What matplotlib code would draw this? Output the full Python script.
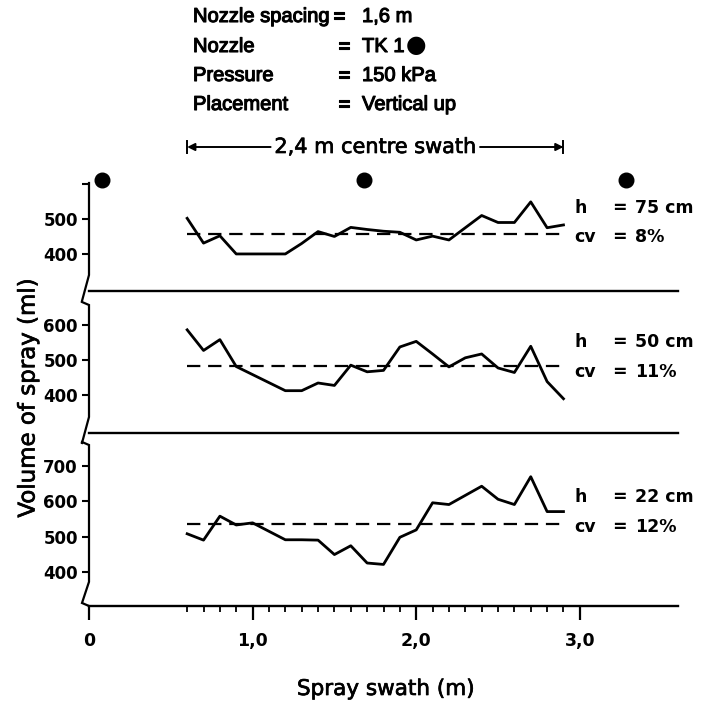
import matplotlib
matplotlib.use('Agg')
import matplotlib.pyplot as plt
import matplotlib.transforms as mtransforms
import matplotlib.patheffects as pe

plt.rcParams['font.family'] = ['DejaVu Sans']

# spray swath positions (m) and measured volumes (ml)
swath_x = [0.6, 0.7, 0.8, 0.9, 1.0, 1.1, 1.2, 1.3, 1.4, 1.5, 1.6, 1.7,
           1.8, 1.9, 2.0, 2.1, 2.2, 2.3, 2.4, 2.5, 2.6, 2.7, 2.8, 2.9]
vol_75cm = [502, 431, 452, 400, 400, 400, 400, 430, 464, 450, 476, 470,
            465, 462, 440, 451, 440, 475, 510, 490, 490, 549, 475, 483]
vol_50cm = [586, 527, 558, 481, 458, 435, 412, 412, 434, 427, 485, 466,
            470, 537, 553, 517, 480, 506, 517, 477, 464, 539, 438, 389]
vol_22cm = [508, 490, 558, 533, 539, 515, 491, 491, 490, 449, 474, 425,
            421, 498, 519, 596, 591, 617, 643, 606, 591, 670, 571, 571]
mean_levels = [458, 483, 535]
heights = ['75 cm', '50 cm', '22 cm']
cvs = ['8%', '11%', '12%']
nozzle_x = [0.08, 1.68, 3.28]

W, H = 705, 703
fig = plt.figure(figsize=(W / 100, H / 100), dpi=100)
fig.patch.set_facecolor('white')

HEAD_FONT = ['Liberation Sans', 'DejaVu Sans']
THICK = [pe.withStroke(linewidth=0.8, foreground='black')]
SEMI = [pe.withStroke(linewidth=0.5, foreground='black')]


def ftext(x, y, s, **kw):
    kw.setdefault('fontsize', 12.5)
    return fig.text(x / W, 1 - y / H, s, **kw)


def add_ax(top, bottom, left=89, right=678):
    ax = fig.add_axes([left / W, 1 - bottom / H, (right - left) / W, (bottom - top) / H])
    ax.patch.set_alpha(0)
    return ax


PX = 0.35  # pixels per ml
DX = -7 / 589  # break offset in axes fraction

# (top px, bottom px, ylim, ticks, ticklabels, data, h row y, cv row y)
panels = [
    (183, 291, (294, 603), [400, 500, 600], ['400', '500', ''], vol_75cm, 208, 237),
    (305, 433, (291, 657), [400, 500, 600], ['400', '500', '600'], vol_50cm, 342, 372),
    (445, 606, (303, 760), [400, 500, 600, 700], ['400', '500', '600', '700'], vol_22cm, 497, 527),
]

axes = []
for i, (top, bot, ylim, yt, ytl, vals, hy, cy) in enumerate(panels):
    ax = add_ax(top, bot)
    axes.append(ax)
    ax.set_xlim(0, 3.6)
    ax.set_ylim(*ylim)
    for s in ['top', 'right', 'left']:
        ax.spines[s].set_visible(False)
    ax.spines['bottom'].set_linewidth(1.7)
    ax.set_yticks(yt)
    ax.set_yticklabels(ytl, fontweight='bold')
    ax.tick_params(axis='y', length=5, width=1.5, pad=3, labelsize=12, direction='out')

    # left axis with break marks
    tr = mtransforms.blended_transform_factory(ax.transAxes, ax.transData)
    lo, hi = ylim
    xs, ys = [], []
    if i > 0:
        xs += [DX]
        ys += [hi + 3 / PX]
    low_v = lo + (24 if i == 2 else 16) / PX
    xs += [0, 0, DX]
    ys += [hi, low_v, lo + (3 / PX if i == 2 else -10 / PX)]
    if i == 2:
        xs += [0]
        ys += [lo]
    ax.plot(xs, ys, color='black', lw=1.6, transform=tr, clip_on=False,
            solid_joinstyle='miter')

    ax.plot(swath_x, vals, color='black', lw=2.0, clip_on=False)
    ax.plot([swath_x[0], swath_x[-1]], [mean_levels[i]] * 2, color='black',
            lw=1.6, linestyle=(0, (6, 3.5)))

    for yy, a, b in [(hy, 'h', heights[i]), (cy, 'cv', cvs[i])]:
        ftext(574, yy, a, va='center', fontweight='bold')
        ftext(612, yy, '=', va='center', fontweight='bold')
        ftext(635, yy, b, va='center', fontweight='bold')

    if i < 2:
        ax.set_xticks([])

ax3 = axes[2]
ax3.set_xticks([0, 1, 2, 3])
ax3.set_xticklabels(['0', '1,0', '2,0', '3,0'], fontweight='bold')
ax3.set_xticks(swath_x, minor=True)
ax3.tick_params(axis='x', which='major', length=10, width=1.6, pad=9, labelsize=12.5)
ax3.tick_params(axis='x', which='minor', length=4, width=1.3)

# nozzle positions
ax1 = axes[0]
ax1.plot(nozzle_x, [613] * len(nozzle_x), 'o', color='black', markersize=10.5,
         clip_on=False)

# centre swath arrow
trf = mtransforms.blended_transform_factory(ax1.transData, fig.transFigure)
ya = 1 - 147 / H
for x0, x1 in [(1.11, swath_x[0]), (2.39, swath_x[-1])]:
    ax1.annotate('', xy=(x1, ya), xytext=(x0, ya), xycoords=trf, textcoords=trf,
                 arrowprops=dict(arrowstyle='-|>', color='black', lw=1.4,
                                 mutation_scale=11, shrinkA=0, shrinkB=0))
    ax1.plot([x1, x1], [ya - 6 / H, ya + 6 / H], color='black', lw=1.4,
             transform=trf, clip_on=False)
ax1.text(1.75, ya, '2,4 m centre swath', transform=trf, ha='center', va='center',
         fontsize=15, path_effects=SEMI)

# header
rows = [('Nozzle spacing', 333, '1,6 m', 22), ('Nozzle', 338, 'TK 1', 52),
        ('Pressure', 338, '150 kPa', 81), ('Placement', 338, 'Vertical up', 110)]
for lab, xeq, val, yb in rows:
    for xx, s in [(193, lab), (xeq, '='), (362, val)]:
        ftext(xx, yb, s, va='baseline', family=HEAD_FONT, fontsize=14.5,
              path_effects=THICK)
ftext(416, 45, '●', ha='center', va='center', fontsize=17)

ftext(28, 398, 'Volume of spray (ml)', rotation=90, ha='center', va='center',
      fontsize=16.5, path_effects=SEMI)
ftext(386, 689, 'Spray swath (m)', ha='center', va='center', fontsize=15.5,
      path_effects=SEMI)

fig.savefig('out.png', dpi=100, facecolor='white')
